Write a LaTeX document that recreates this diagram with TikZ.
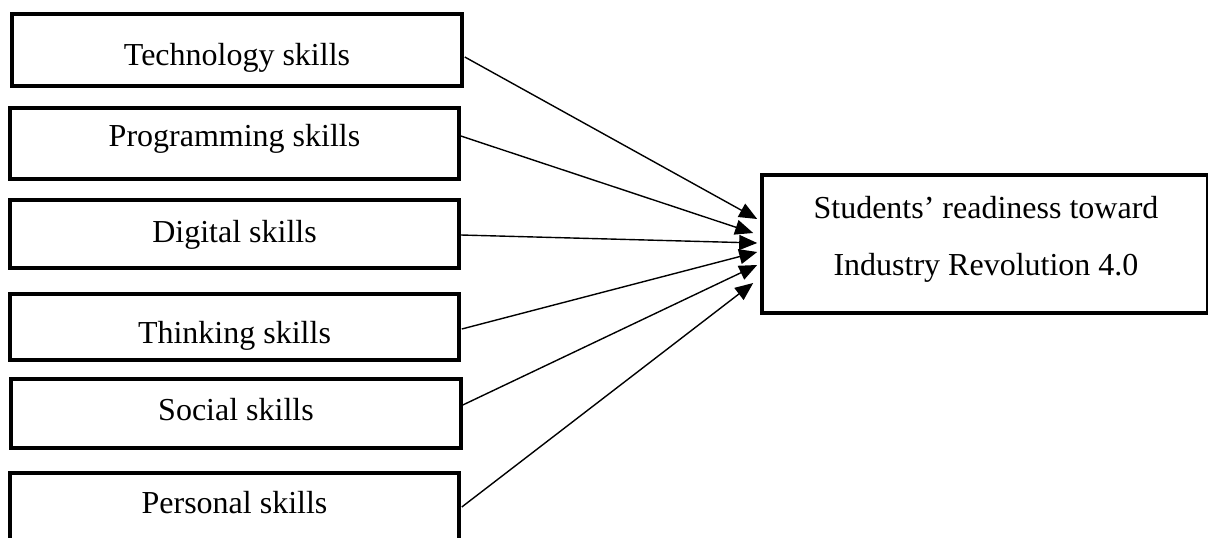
\documentclass[tikz,border=0pt]{standalone}
\usepackage{fontspec}
\setmainfont{Liberation Serif}
\usetikzlibrary{arrows.meta,calc}
\begin{document}
\begin{tikzpicture}[x=1pt,y=-1pt,
  box/.style={draw=black,line width=3.6pt,inner sep=0pt,fill=none},
  txt/.style={font=\fontsize{32}{38}\selectfont,anchor=base,inner sep=0pt},
  arr/.style={line width=1.4pt,-{Triangle[length=18pt,width=15pt]}}]
\useasboundingbox (0,0) rectangle (1208,538);
\fill[white] (0,0) rectangle (1208,538);
\clip (0,0) rectangle (1208,538);
% left boxes
\node[box,minimum width=450,minimum height=72] (b1) at (237,50) {};
\node[box,minimum width=449,minimum height=71] (b2) at (234.5,143.5) {};
\node[box,minimum width=449,minimum height=68] (b3) at (234.5,234) {};
\node[box,minimum width=449,minimum height=66] (b4) at (234.5,327) {};
\node[box,minimum width=450,minimum height=69] (b5) at (236,413.5) {};
\node[box,minimum width=449,minimum height=75] (b6) at (234.5,510.5) {};
% labels
\node[txt] (l1) at (237,65) {Technology skills};
\node[txt] (l2) at (234.5,146) {Programming skills};
\node[txt] (l3) at (234.5,242) {Digital skills};
\node[txt] (l4) at (234.5,343) {Thinking skills};
\node[txt] (l5) at (236,420) {Social skills};
\node[txt] (l6) at (234.5,513) {Personal skills};
% right box
\node[box,minimum width=445.5,minimum height=138] (r) at (984.75,244) {};
\node[txt] (rl1) at (986,218) {Students’ readiness toward};
\node[txt] (rl2) at (986,275) {Industry Revolution 4.0};
% connectors
\draw[arr] ($(b1.east)+(1,7)$)    -- ($(r.west)+(-3,-25)$);
\draw[arr] ($(b2.east)+(0,-7.5)$) -- ($(r.west)+(-7,-11)$);
\draw[arr] ($(b3.east)+(0,1)$)    -- ($(r.west)+(-3,-1)$);
\draw[arr] ($(b4.east)+(1,2)$)    -- ($(r.west)+(-3,8)$);
\draw[arr] ($(b5.east)+(0,-8.5)$) -- ($(r.west)+(-3,21)$);
\draw[arr] ($(b6.east)+(1,-3.5)$) -- ($(r.west)+(-7,39)$);
\end{tikzpicture}
\end{document}
